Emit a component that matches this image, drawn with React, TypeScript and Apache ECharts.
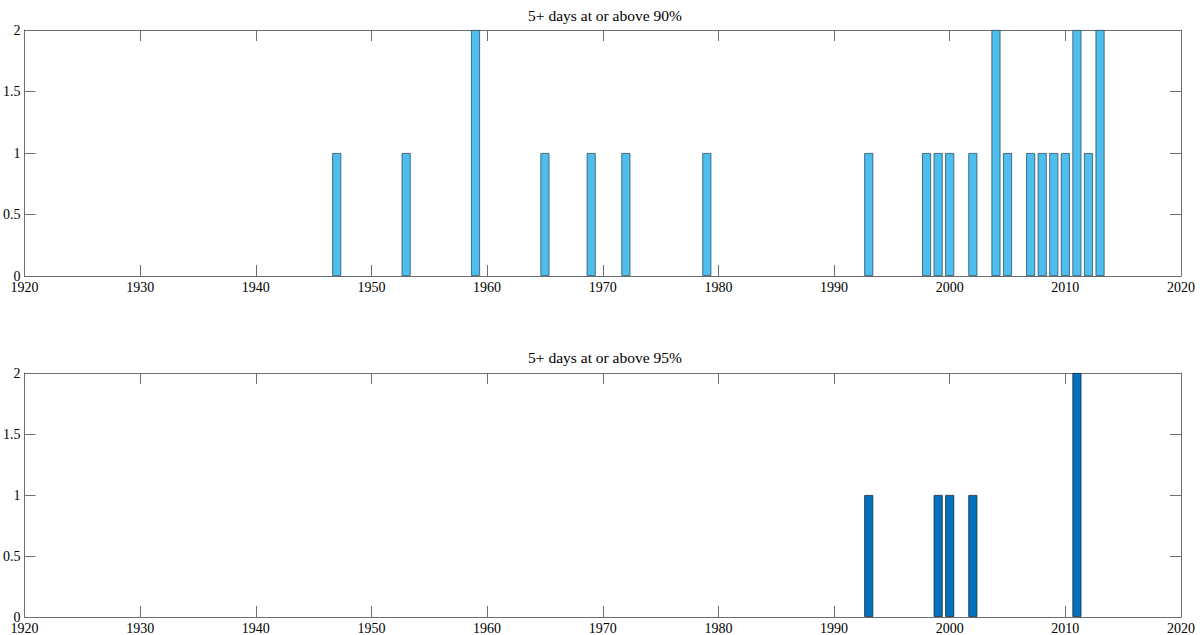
import React, { useEffect, useRef } from "react";
import * as echarts from "echarts";

const years90 = [1947, 1953, 1959, 1965, 1969, 1972, 1979, 1993, 1998, 1999, 2000, 2002, 2004, 2005, 2007, 2008, 2009, 2010, 2011, 2012, 2013];
const counts90 = [1, 1, 2, 1, 1, 1, 1, 1, 1, 1, 1, 1, 2, 1, 1, 1, 1, 1, 2, 1, 2];
const years95 = [1993, 1999, 2000, 2002, 2011];
const counts95 = [1, 1, 1, 1, 2];
const titles = ["5+ days at or above 90%", "5+ days at or above 95%"];
const xTicks = [1920, 1930, 1940, 1950, 1960, 1970, 1980, 1990, 2000, 2010, 2020];
const yTicks = [0, 0.5, 1, 1.5, 2];

const FONT = "'Liberation Serif', 'Times New Roman', serif";
const AX = "#6e6e6e";

export default function App() {
  const ref = useRef<HTMLDivElement>(null);
  useEffect(() => {
    const chart = echarts.init(ref.current!, null, { renderer: "svg" });
    const grids = [
      { left: 21, right: 19, top: 30, height: 246 },
      { left: 21, right: 19, top: 373, height: 245 },
    ];
    const xAxis: any[] = [];
    const yAxis: any[] = [];
    const tick = { inside: true, length: 11, lineStyle: { color: AX, width: 1 } };
    const line = { show: true, onZero: false, lineStyle: { color: AX, width: 1 } };
    grids.forEach((_, i) => {
      ["bottom", "top"].forEach((pos) => {
        xAxis.push({
          type: "value", gridIndex: i, min: xTicks[0], max: xTicks[xTicks.length - 1], interval: 10,
          position: pos,
          axisLine: line,
          axisTick: { show: true, ...tick },
          axisLabel: pos === "bottom"
            ? { show: true, color: "#000", fontFamily: FONT, fontSize: 14, margin: 4, formatter: (v: number) => String(v) }
            : { show: false },
          splitLine: { show: false },
        });
      });
      ["left", "right"].forEach((pos) => {
        yAxis.push({
          type: "value", gridIndex: i, min: yTicks[0], max: yTicks[yTicks.length - 1], interval: 0.5,
          position: pos,
          axisLine: line,
          axisTick: { show: true, ...tick },
          axisLabel: pos === "left"
            ? { show: true, color: "#000", fontFamily: FONT, fontSize: 14, margin: 4, formatter: (v: number) => String(v) }
            : { show: false },
          splitLine: { show: false },
        });
      });
    });
    const titleStyle = { fontFamily: FONT, fontSize: 15.5, fontWeight: "normal", color: "#000" };
    chart.setOption({
      animation: false,
      backgroundColor: "#fff",
      title: [
        { text: titles[0], left: 600, top: 2, textAlign: "center", textStyle: titleStyle },
        { text: titles[1], left: 600, top: 344, textAlign: "center", textStyle: titleStyle },
      ],
      grid: grids,
      xAxis,
      yAxis,
      series: [
        {
          type: "bar", xAxisIndex: 0, yAxisIndex: 0, barWidth: 9,
          data: years90.map((y, i) => [y, counts90[i]]),
          itemStyle: { color: "#4DBEEE", borderColor: "#2f4f5f", borderWidth: 0.8 },
        },
        {
          type: "bar", xAxisIndex: 2, yAxisIndex: 2, barWidth: 9,
          data: years95.map((y, i) => [y, counts95[i]]),
          itemStyle: { color: "#0072BD", borderColor: "#1a2a3a", borderWidth: 0.8 },
        },
      ],
    });
    return () => chart.dispose();
  }, []);
  return <div ref={ref} style={{ position: "absolute", left: 0, top: 0, width: 1200, height: 635 }} />;
}
